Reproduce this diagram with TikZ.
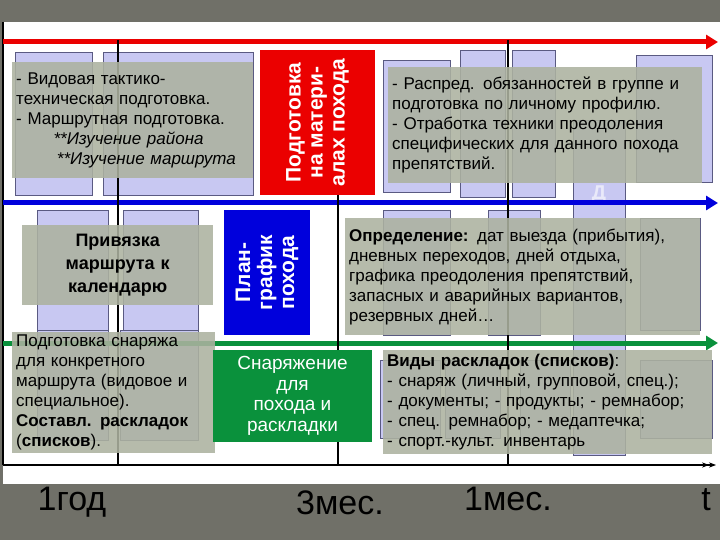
\documentclass[tikz,border=0pt]{standalone}
\usepackage{fontspec}
\setmainfont{Liberation Sans}
\usetikzlibrary{arrows.meta}
\definecolor{lav}{RGB}{200,200,242}
\definecolor{lavd}{RGB}{90,90,130}
\definecolor{tbox}{RGB}{172,178,160}
\definecolor{bgtex}{RGB}{112,112,104}
\definecolor{myred}{RGB}{235,0,0}
\definecolor{myblue}{RGB}{0,0,220}
\definecolor{mygreen}{RGB}{10,145,60}
\tikzset{
 lbox/.style={draw=lavd,fill=lav,line width=0.6pt},
 tb/.style={fill=tbox,fill opacity=0.88,text opacity=1,inner sep=4pt,anchor=north west,align=left,font=\fontsize{17}{20}\selectfont},
 colbox/.style={text=white,font=\bfseries\fontsize{21}{22}\selectfont,align=center},
 axis/.style={line width=5pt},
 tick/.style={line width=1.6pt},
 tlabel/.style={font=\fontsize{34}{36}\selectfont,anchor=base},
 ghost/.style={text=white,text opacity=0.6,font=\bfseries\fontsize{20}{22}\selectfont}
}
\begin{document}
\begin{tikzpicture}[x=1pt,y=-1pt]
\useasboundingbox (0,0) rectangle (720,540);
\fill[bgtex] (0,0) rectangle (720,540);
\fill[white] (3,22) rectangle (720,484);
% lavender background boxes
\foreach \a/\b/\c/\d in {15/52/92/195,103/52/253/195,383/60/450/192,460/50/505/197,512/50/555/197,636/55/712/182,
 37/210/108/335,123/210/198/335,383/210/450/335,488/210/540/335,640/218/700/330,573/120/625/455,
 380/360/440/438,445/360/500/438,520/360/570/438,640/360/712/438,37/330/108/440,120/330/198/440}
 \draw[lbox] (\a,\b) rectangle (\c,\d);
\node[ghost] (gd) at (599,195) {Д};
% frame and axes
\coordinate (l0) at (3,22);
\coordinate (l1) at (3,465);
\draw[line width=1.6pt] (l0) -- (l1);
\coordinate (rs) at (3,42); \coordinate (re) at (718,42);
\coordinate (bs) at (3,203); \coordinate (be) at (718,203);
\coordinate (gs) at (3,343); \coordinate (ge) at (718,343);
\draw[axis,myred,-{Triangle[length=12pt,width=14pt]}] (rs) -- (re);
\draw[axis,myblue,-{Triangle[length=12pt,width=14pt]}] (bs) -- (be);
\draw[axis,mygreen,-{Triangle[length=12pt,width=14pt]}] (gs) -- (ge);
\coordinate (t0) at (118,40); \coordinate (t0b) at (118,465);
\coordinate (t1) at (338,195); \coordinate (t1b) at (338,465);
\coordinate (t2) at (508,40); \coordinate (t2b) at (508,465);
\draw[tick] (t0) -- (t0b);
\draw[tick] (t1) -- (t1b);
\draw[tick] (t2) -- (t2b);
\coordinate (as) at (3,465); \coordinate (ae) at (716,465);
\draw[line width=1.8pt,-{Stealth[length=7pt]Stealth[length=7pt]}] (as) -- (ae);
% text boxes
\node[tb,minimum width=241pt,minimum height=116pt,text width=233pt] (tx1) at (12,62) {- Видовая тактико-\\техническая подготовка.\\- Маршрутная подготовка.\\\hspace*{2.2em}\itshape **Изучение района\\\hspace*{2.4em}\itshape **Изучение маршрута};
\fill[myred] (260,50) rectangle (375,195);
\node[colbox,rotate=90] (red) at (317.5,122.5) {Подготовка\\на матери-\\алах похода};
\node[tb,minimum width=314pt,minimum height=116pt,text width=306pt] (tx2) at (388,67) {- Распред. обязанностей в группе и\\подготовка по личному профилю.\\- Отработка техники преодоления\\специфических для данного похода\\препятствий.};
\node[tb,minimum width=191pt,minimum height=80pt,text width=183pt,align=center,font=\bfseries\fontsize{18}{23}\selectfont] (tx3) at (22,225) {Привязка\\маршрута к\\календарю};
\fill[myblue] (224,210) rectangle (310,335);
\node[colbox,rotate=90] (blue) at (267,272.5) {План-\\график\\похода};
\node[tb,minimum width=355pt,minimum height=117pt,text width=347pt] (tx4) at (345,218) {\textbf{Определение:} дат выезда (прибытия),\\дневных переходов, дней отдыха,\\графика преодоления препятствий,\\запасных и аварийных вариантов,\\резервных дней…};
\node[tb,minimum width=203pt,minimum height=110pt,text width=195pt,inner sep=3pt] (tx5) at (12,332) {Подготовка снаряжа\\для конкретного\\маршрута (видовое и\\специальное).\\\textbf{Составл. раскладок}\\(\textbf{списков}).};
\fill[mygreen] (213,350) rectangle (372,442);
\node[text=white,font=\fontsize{19}{20.5}\selectfont,align=center] (green) at (292.5,396) {Снаряжение\\для\\похода  и\\раскладки};
\node[tb,minimum width=329pt,minimum height=88pt,text width=321pt] (tx6) at (383,350) {\textbf{Виды раскладок (списков)}:\\- снаряж (личный, групповой, спец.);\\- документы; - продукты; - ремнабор;\\- спец. ремнабор; - медаптечка;\\- спорт.-культ. инвентарь};
% time labels
\node[tlabel] (y1) at (72,510) {1год};
\node[tlabel] (m3) at (340,514) {3мес.};
\node[tlabel] (m1) at (508,510) {1мес.};
\node[tlabel] (tt) at (706,510) {t};
\end{tikzpicture}
\end{document}
